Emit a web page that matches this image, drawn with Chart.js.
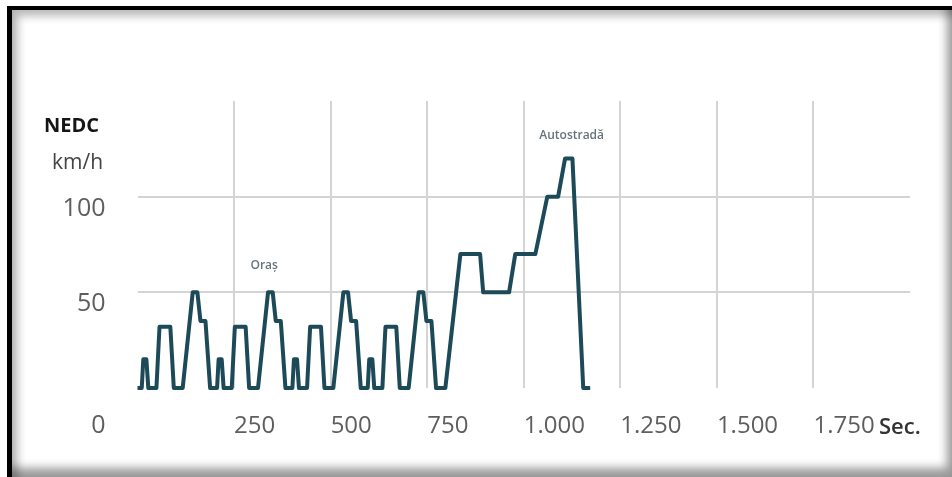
<!DOCTYPE html>
<html lang="ro">
<head>
<meta charset="UTF-8">
<title>NEDC</title>
<script src="https://cdn.jsdelivr.net/npm/chart.js"></script>
<style>
  body { margin: 0; background: #fff; }
  #wrap { position: relative; width: 952px; height: 477px; overflow: hidden; background: #fff; }
  #frame {
    position: absolute; left: 7px; top: 6px; right: 0; bottom: 0;
    border-left: 5px solid #000; border-top: 4px solid #000;
    box-shadow: inset 6px 6px 9px rgba(0,0,0,.28), inset -5px -9px 10px rgba(0,0,0,.4);
    pointer-events: none;
  }
</style>
</head>
<body>
<div id="wrap">
  <canvas id="chart"></canvas>
  <div id="frame"></div>
</div>
<script>
// NEDC speed profile (seconds / km/h)
const timeSec = [
  0, 11, 15, 23, 28, 49, 57, 85, 94, 117, 143, 155, 163, 176, 188,
  206, 210, 218, 223, 244, 252, 280, 289, 312, 338, 350, 358, 371, 383,
  401, 405, 413, 418, 439, 447, 475, 484, 507, 533, 545, 553, 566, 578,
  596, 600, 608, 613, 634, 642, 670, 679, 702, 728, 740, 748, 761, 773,
  797, 836, 887, 895, 962, 978, 1030, 1061, 1089, 1107, 1126, 1154, 1172
];
const speedKmh = [
  0, 0, 15, 15, 0, 0, 32, 32, 0, 0, 50, 50, 35, 35, 0,
  0, 15, 15, 0, 0, 32, 32, 0, 0, 50, 50, 35, 35, 0,
  0, 15, 15, 0, 0, 32, 32, 0, 0, 50, 50, 35, 35, 0,
  0, 15, 15, 0, 0, 32, 32, 0, 0, 50, 50, 35, 35, 0,
  0, 70, 70, 50, 50, 70, 70, 100, 100, 120, 120, 0, 0
];
const xTickValues = [0, 250, 500, 750, 1000, 1250, 1500, 1750, 2000];
const xTickLabels = ['', '250', '500', '750', '1.000', '1.250', '1.500', '1.750', ''];
const yTickValues = [0, 50, 100, 150];
const yTickLabels = ['', '50', '100', ''];

const tickColor = '#5e5e5e';
const gridColor = '#d4d4d4';

// extra texts: titles, unit, zero label and region names
const textPlugin = {
  id: 'texts',
  afterDraw(chart) {
    const ctx = chart.ctx;
    const x = chart.scales.x, y = chart.scales.y;
    ctx.save();
    ctx.textBaseline = 'middle';

    ctx.fillStyle = '#151515';
    ctx.font = 'bold 20px "Open Sans"';
    ctx.textAlign = 'left';
    ctx.fillText('NEDC', 44, 126);

    ctx.fillStyle = '#444';
    ctx.font = '21px "Open Sans"';
    ctx.fillText('km/h', 52, 163);

    ctx.fillStyle = tickColor;
    ctx.font = '25px "Open Sans"';
    ctx.textAlign = 'right';
    ctx.fillText('0', y.right - 32, 426);

    ctx.fillStyle = '#333';
    ctx.font = '600 22px "Open Sans"';
    ctx.textAlign = 'left';
    ctx.fillText('Sec.', 879, 428);

    ctx.fillStyle = '#66747a';
    ctx.font = '600 12px "Open Sans"';
    ctx.textAlign = 'center';
    ctx.fillText('Oraș', x.getPixelForValue(328), y.getPixelForValue(64));
    ctx.fillText('Autostradă', x.getPixelForValue(1124), y.getPixelForValue(132));
    ctx.restore();
  }
};

new Chart(document.getElementById('chart'), {
  type: 'line',
  data: {
    datasets: [{
      data: timeSec.map((t, i) => ({ x: t, y: speedKmh[i] })),
      borderColor: '#1d4a58',
      borderWidth: 4,
      borderJoinStyle: 'round',
      pointRadius: 0,
      tension: 0,
      fill: false,
      clip: false
    }]
  },
  options: {
    responsive: true,
    maintainAspectRatio: false,
    animation: false,
    layout: { padding: { top: 101, right: 42, bottom: 0, left: 0 } },
    plugins: { legend: { display: false }, tooltip: { enabled: false } },
    scales: {
      x: {
        type: 'linear',
        min: 0,
        max: 2000,
        afterFit: s => { s.height = 89; },
        afterBuildTicks: s => { s.ticks = xTickValues.map(v => ({ value: v })); },
        border: { display: false },
        grid: {
          drawTicks: false,
          lineWidth: 2,
          color: c => (c.tick && c.tick.value > 0 && c.tick.value < 2000) ? gridColor : 'rgba(0,0,0,0)'
        },
        ticks: {
          align: 'start',
          padding: 24,
          maxRotation: 0,
          autoSkip: false,
          font: { family: 'Open Sans', size: 24 },
          color: tickColor,
          callback: v => xTickLabels[xTickValues.indexOf(v)]
        }
      },
      y: {
        min: 0,
        max: 150,
        afterFit: s => { s.width = 137.5; },
        afterBuildTicks: s => { s.ticks = yTickValues.map(v => ({ value: v })); },
        border: { display: false },
        grid: {
          drawTicks: false,
          lineWidth: 2,
          color: c => (c.tick && c.tick.value > 0 && c.tick.value < 150) ? gridColor : 'rgba(0,0,0,0)'
        },
        ticks: {
          padding: 32,
          labelOffset: 12,
          font: { family: 'Open Sans', size: 25 },
          color: tickColor,
          callback: v => yTickLabels[yTickValues.indexOf(v)]
        }
      }
    }
  },
  plugins: [textPlugin]
});
</script>
</body>
</html>
